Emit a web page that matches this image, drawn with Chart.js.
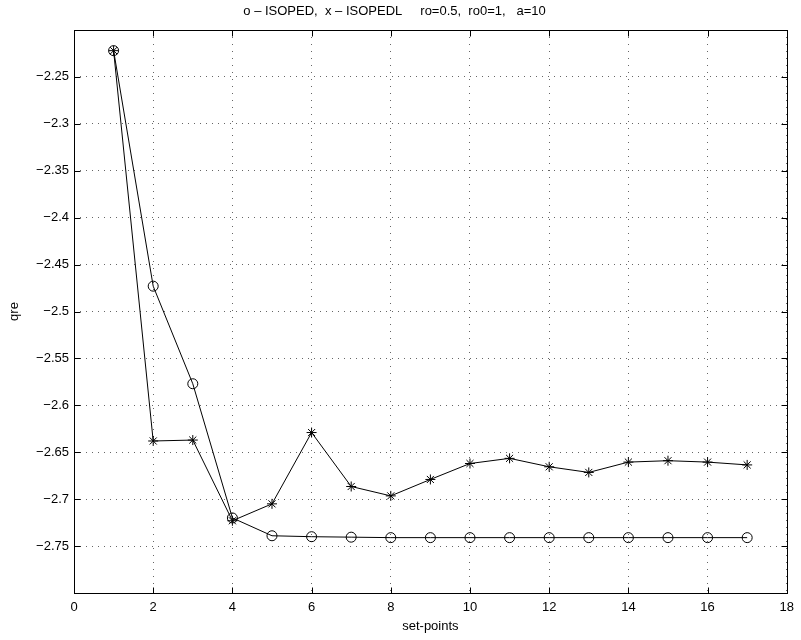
<!DOCTYPE html>
<html>
<head>
<meta charset="utf-8">
<script src="https://cdn.jsdelivr.net/npm/chart.js@4/dist/chart.umd.min.js"></script>
<style>
  html,body{margin:0;padding:0;background:#fff;}
  #wrap{width:801px;height:640px;position:relative;}
</style>
</head>
<body>
<div id="wrap"><canvas id="c" width="801" height="640"></canvas></div>
<script>
// data
const setPoints = [1,2,3,4,5,6,7,8,9,10,11,12,13,14,15,16,17];
const isoped  = [-2.222,-2.473,-2.577,-2.720,-2.739,-2.740,-2.7405,-2.741,-2.741,-2.741,-2.741,-2.741,-2.741,-2.741,-2.741,-2.741,-2.741];
const isopedl = [-2.222,-2.638,-2.637,-2.723,-2.705,-2.629,-2.6865,-2.6965,-2.679,-2.662,-2.6565,-2.6655,-2.6715,-2.6605,-2.659,-2.6605,-2.6635];
const yTicks = [-2.25,-2.3,-2.35,-2.4,-2.45,-2.5,-2.55,-2.6,-2.65,-2.7,-2.75];
const xTicks = [0,2,4,6,8,10,12,14,16,18];

const FONT = "'Liberation Sans', Arial, Helvetica, sans-serif";
const fmt = v => (v<0 ? '\u2212' : '') + String(Math.abs(Math.round(v*100)/100));
const pts = arr => setPoints.map((x,i)=>({x, y:arr[i]}));

// matlab style frame with inward ticks on all four sides
const frame = {
  id:'frame',
  afterDraw(chart){
    const {ctx, chartArea:a, scales:{x,y}} = chart;
    const L=Math.round(a.left)+.5, R=Math.round(a.right)+.5, T=Math.round(a.top)+.5, B=Math.round(a.bottom)+.5;
    const len=6;
    ctx.save();
    ctx.strokeStyle='#000'; ctx.lineWidth=1;
    ctx.beginPath();
    xTicks.forEach(v=>{ const px=Math.round(x.getPixelForValue(v))+.5;
      ctx.moveTo(px,B); ctx.lineTo(px,B-len); ctx.moveTo(px,T); ctx.lineTo(px,T+len); });
    yTicks.forEach(v=>{ const py=Math.round(y.getPixelForValue(v))+.5;
      ctx.moveTo(L,py); ctx.lineTo(L+len,py); ctx.moveTo(R,py); ctx.lineTo(R-len,py); });
    ctx.stroke();
    ctx.strokeRect(L,T,R-L,B-T);
    ctx.restore();
  }
};

new Chart(document.getElementById('c'),{
  type:'line',
  data:{datasets:[
    {label:'ISOPED', data:pts(isoped), borderColor:'#000', borderWidth:1, tension:0,
     pointStyle:'circle', pointRadius:5, pointBorderColor:'#000', pointBorderWidth:1, pointBackgroundColor:'rgba(0,0,0,0)'},
    {label:'ISOPEDL', data:pts(isopedl), borderColor:'#000', borderWidth:1, tension:0,
     pointStyle:'star', pointRadius:5, pointBorderColor:'#000', pointBorderWidth:1, pointBackgroundColor:'#000'}
  ]},
  options:{
    responsive:false, animation:false, devicePixelRatio:1,
    layout:{padding:{left:0,right:12,top:0,bottom:0}},
    plugins:{
      legend:{display:false}, tooltip:{enabled:false},
      title:{display:true, text:'o \u2013 ISOPED,  x \u2013 ISOPEDL     ro=0.5,  ro0=1,   a=10',
        color:'#000', font:{family:FONT,size:13,weight:'normal'}, padding:{top:4,bottom:10.4}}
    },
    scales:{
      x:{type:'linear', min:0, max:18,
        afterBuildTicks:s=>{ s.ticks=xTicks.map(v=>({value:v})); },
        afterFit:s=>{ s.height=47; },
        ticks:{color:'#000', font:{family:FONT,size:13}, padding:7, maxRotation:0, callback:v=>String(v)},
        grid:{color:'#666', lineWidth:1, drawTicks:false},
        border:{display:false, dash:[1,6]},
        title:{display:true, text:'set-points', color:'#000', font:{family:FONT,size:13}, padding:{top:0,bottom:6}}
      },
      y:{type:'linear', min:-2.8, max:-2.2,
        afterBuildTicks:s=>{ s.ticks=yTicks.map(v=>({value:v})); },
        afterFit:s=>{ s.width=74; },
        ticks:{color:'#000', font:{family:FONT,size:13}, padding:5, callback:v=>fmt(v)},
        grid:{color:'#666', lineWidth:1, drawTicks:false},
        border:{display:false, dash:[1,5]},
        title:{display:true, text:'qre', color:'#000', font:{family:FONT,size:13}, padding:{top:7,bottom:0}}
      }
    }
  },
  plugins:[frame]
});
</script>
</body>
</html>
